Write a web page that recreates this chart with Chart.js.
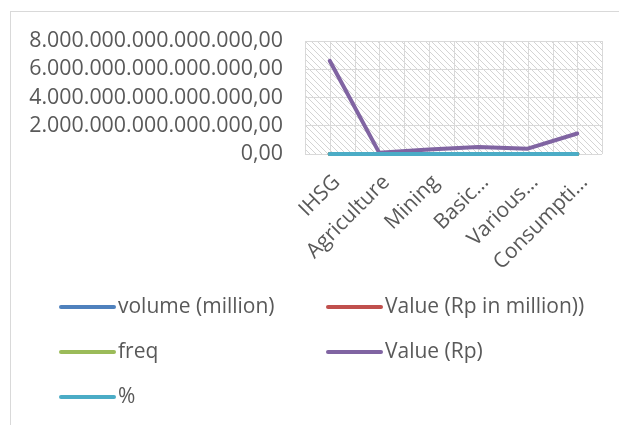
<!DOCTYPE html>
<html>
<head>
<meta charset="utf-8">
<script src="https://cdn.jsdelivr.net/npm/chart.js@4.4.1/dist/chart.umd.min.js"></script>
<style>
  html, body { margin: 0; padding: 0; background: #fff; }
  #wrap { width: 619px; height: 425px; position: relative; }
</style>
</head>
<body>
<div id="wrap"><canvas id="sectorChart" width="619" height="425"></canvas></div>
<script>
// categories as Excel shows them (long names truncated with an ellipsis)
const categories = ['IHSG', 'Agriculture', 'Mining', 'Basic…', 'Various…', 'Consumpti…'];

// series values (all but "Value (Rp)" sit on the zero line at this scale)
const volumeMillion = [2650, 30, 310, 420, 180, 390];
const valueRpMillion = [6600000000, 80000000, 320000000, 500000000, 380000000, 1450000000];
const freq = [310000, 6000, 42000, 51000, 27000, 60000];
const valueRp = [6.6e15, 0.08e15, 0.32e15, 0.5e15, 0.38e15, 1.45e15];
const percent = [100, 1.2, 4.8, 7.6, 5.8, 22];

// y axis tick values
const yTicks = [0, 2e15, 4e15, 6e15, 8e15];

const textColor = '#595959';
const gridColor = '#d9d9d9';
const fontFamily = '"Open Sans", "Noto Sans", sans-serif';

function idNumber(v) {
    const s = Math.round(v).toString().replace(/\B(?=(\d{3})+(?!\d))/g, '.');
    return s + ',00';
}

// diagonal hatch used as the plot area fill
function makeHatch() {
    const c = document.createElement('canvas');
    c.width = 6;
    c.height = 6;
    const g = c.getContext('2d');
    g.strokeStyle = '#d4d4d4';
    g.lineWidth = 1;
    g.beginPath();
    g.moveTo(-1, -1); g.lineTo(7, 7);
    g.moveTo(-1, 5); g.lineTo(1, 7);
    g.moveTo(5, -1); g.lineTo(7, 1);
    g.stroke();
    return g.createPattern(c, 'repeat');
}

const plotBackground = {
    id: 'plotBackground',
    beforeDraw(chart) {
        const { ctx, chartArea: a, scales: { x } } = chart;
        ctx.save();
        ctx.strokeStyle = gridColor;
        ctx.lineWidth = 1;
        ctx.strokeRect(10.5, 11.5, 640, 440);
        ctx.fillStyle = makeHatch();
        ctx.fillRect(a.left, a.top, a.right - a.left, a.bottom - a.top);
        // vertical grid at every category centre and boundary
        const half = (x.getPixelForValue(1) - x.getPixelForValue(0)) / 2;
        ctx.beginPath();
        categories.forEach((c, i) => {
            const px = x.getPixelForValue(i);
            [px - half, px, px + half].forEach(p => {
                const xx = Math.round(p) + 0.5;
                ctx.moveTo(xx, a.top);
                ctx.lineTo(xx, a.bottom);
            });
        });
        ctx.stroke();
        ctx.restore();
    }
};

const legendSlots = [
    { x: 61, y: 307 }, { x: 328, y: 307 },
    { x: 61, y: 352 }, { x: 328, y: 352 },
    { x: 61, y: 397 }
];

const gridLegend = {
    id: 'gridLegend',
    afterDraw(chart) {
        const ctx = chart.ctx;
        ctx.save();
        ctx.font = '21px ' + fontFamily;
        ctx.textBaseline = 'middle';
        ctx.textAlign = 'left';
        chart.data.datasets.forEach((ds, i) => {
            const s = legendSlots[i];
            ctx.strokeStyle = ds.borderColor;
            ctx.lineWidth = 4;
            ctx.lineCap = 'round';
            ctx.beginPath();
            ctx.moveTo(s.x, s.y);
            ctx.lineTo(s.x + 53, s.y);
            ctx.stroke();
            ctx.fillStyle = textColor;
            ctx.fillText(ds.label, s.x + 57, s.y);
        });
        ctx.restore();
    }
};

function lineSet(label, data, color, order) {
    return {
        label: label,
        data: data,
        borderColor: color,
        backgroundColor: color,
        borderWidth: 4,
        pointRadius: 0,
        borderCapStyle: 'round',
        borderJoinStyle: 'round',
        tension: 0,
        clip: false,
        order: order
    };
}

const ctx = document.getElementById('sectorChart').getContext('2d');
const sectorChart = new Chart(ctx, {
    type: 'line',
    data: {
        labels: categories,
        datasets: [
            lineSet('volume (million)', volumeMillion, '#4f81bd', 5),
            lineSet('Value (Rp in million))', valueRpMillion, '#c0504d', 4),
            lineSet('freq', freq, '#9bbb59', 3),
            lineSet('Value (Rp)', valueRp, '#8064a2', 2),
            lineSet('%', percent, '#4bacc6', 1)
        ]
    },
    options: {
        responsive: false,
        animation: false,
        devicePixelRatio: 1,
        layout: { padding: { left: 0, right: 17, top: 41, bottom: 121 } },
        plugins: {
            legend: { display: false },
            tooltip: { enabled: false }
        },
        scales: {
            x: {
                offset: true,
                grid: { display: false },
                border: { display: false },
                ticks: {
                    color: textColor,
                    font: { family: fontFamily, size: 21 },
                    minRotation: 45,
                    maxRotation: 45,
                    autoSkip: false,
                    padding: 8,
                    labelOffset: 7
                },
                afterFit(scale) { scale.height = 150; }
            },
            y: {
                min: 0,
                max: 8e15,
                afterBuildTicks(scale) {
                    scale.ticks = yTicks.map(v => ({ value: v }));
                },
                grid: { color: gridColor, drawTicks: false },
                border: { display: false },
                ticks: {
                    color: textColor,
                    font: { family: fontFamily, size: 21.4 },
                    padding: 22,
                    autoSkip: false,
                    callback: v => idNumber(v)
                },
                afterFit(scale) { scale.width = 305; }
            }
        }
    },
    plugins: [plotBackground, gridLegend]
});
</script>
</body>
</html>
